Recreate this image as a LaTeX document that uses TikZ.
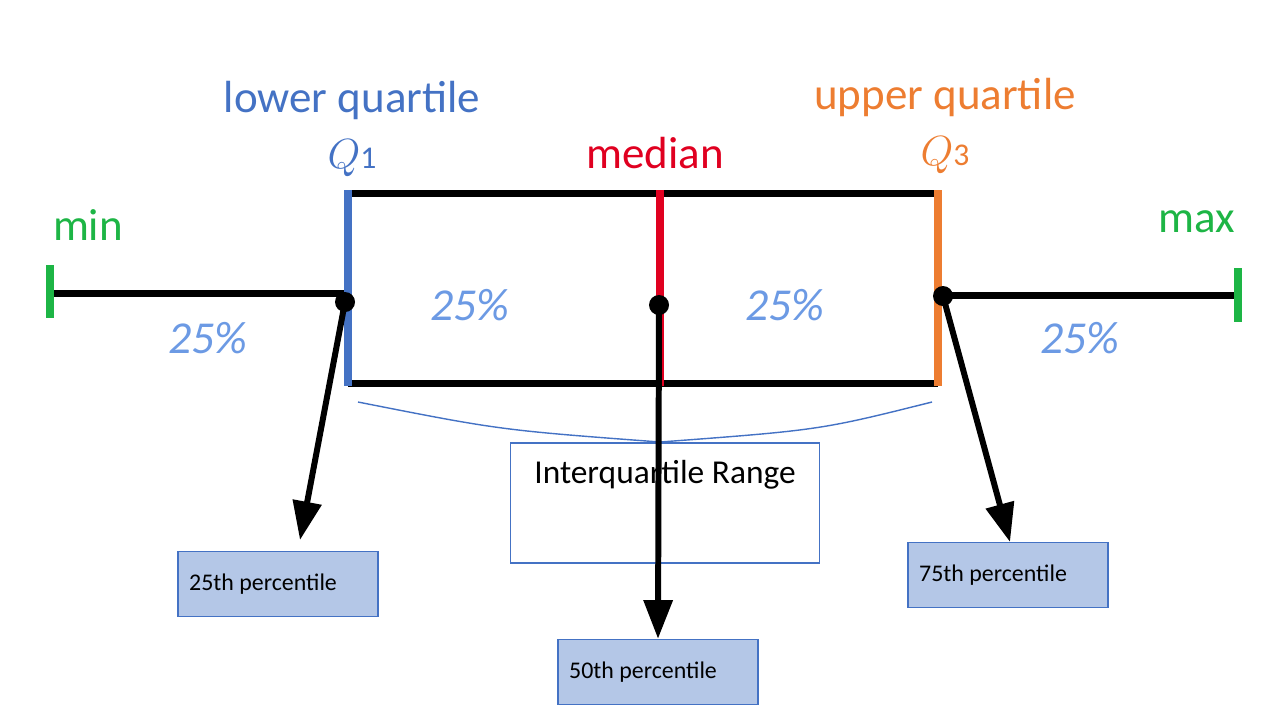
\documentclass[tikz,border=0pt]{standalone}
\usepackage{fontspec}
\setmainfont{Carlito}
\usetikzlibrary{positioning,arrows.meta}
\definecolor{qblue}{HTML}{4472C4}
\definecolor{qorange}{HTML}{ED7D31}
\definecolor{qgreen}{HTML}{1DB545}
\definecolor{qred}{HTML}{E00020}
\definecolor{pblue}{HTML}{6C9AE4}
\definecolor{lblue}{HTML}{B4C7E7}

\begin{document}
\begin{tikzpicture}[%
		x=0.01cm,
		y=-0.01cm,
		>={Triangle[length=11pt,width=8pt]},
		qlabel/.style={%
			font=\fontsize{12.8}{14}\selectfont,
			inner sep=0pt
		},
		pct/.style={%
			font=\fontsize{13}{15}\selectfont\itshape,
			text=pblue,
			inner sep=0pt
		},
		pbox/.style={%
			draw=qblue,
			fill=lblue,
			minimum width=2cm,
			minimum height=0.65cm,
			font=\fontsize{6.8}{8}\selectfont,
			inner sep=0pt
		},
		dot/.style={%
			circle,
			fill=black,
			inner sep=0pt,
			minimum size=0.2cm
		}
		]
		\useasboundingbox (0,0) rectangle (1280,720);
		
		% whiskers and box
		\draw[line width=2pt] (50,293) -- (345,293);
		\draw[line width=2pt] (942,295) -- (1238,295);
		\draw[line width=2pt] (348,193) -- (938,193);
		\draw[line width=2pt] (348,383) -- (938,383);
		\draw[qgreen,line width=2.5pt] (50,265) -- (50,318);
		\draw[qgreen,line width=2.5pt] (1238,268) -- (1238,322);
		\draw[qblue,line width=2.5pt] (348,190) -- (348,386);
		\draw[qorange,line width=2.5pt] (938,190) -- (938,386);
		\draw[qred,line width=2.5pt] (660,190) -- (660,386);
		
		% brace
		\draw[qblue,thin] (358,402) .. controls (500,430) .. (660,442)
		.. controls (820,430) .. (932,402);
		
		% boxes
		\node[draw=qblue,fill=white,minimum width=3.09cm,minimum height=1.2cm,
		inner sep=0pt] (iqr) at (665,503) {};
		\node[font=\fontsize{9.5}{11}\selectfont] (iqrt) at (665,475) {Interquartile Range};
		\node[pbox] (p25) at (278,584) {\hspace*{-0.3cm}25th percentile};
		\node[pbox] (p50) at (658,672) {\hspace*{-0.3cm}50th percentile};
		\node[pbox] (p75) at (1008,575) {\hspace*{-0.3cm}75th percentile};
		
		% points
		\node[dot] (q1) at (345,302) {};
		\node[dot] (md) at (659,305) {};
		\node[dot] (q3) at (943,296) {};
		
		\draw[->,line width=1.7pt] (q1.center) -- (300,540);
		\draw[->,line width=1.7pt] (md.center) -- (p50.north);
		\draw[->,line width=1.7pt] (q3.center) -- (1010,542);
		
		% labels
		\node[qlabel,text=qblue] (lq) at (352,100) {lower quartile};
		\node[qlabel,text=qblue] (q1t) at (352,158) {$Q$\fontsize{9}{10}\selectfont1};
		\node[qlabel,text=qred] (mdt) at (655,153) {median};
		\node[qlabel,text=qorange] (uq) at (945,97) {upper quartile};
		\node[qlabel,text=qorange] (q3t) at (945,155) {$Q$\fontsize{9}{10}\selectfont3};
		\node[qlabel,text=qgreen] (mn) at (88,225) {min};
		\node[qlabel,text=qgreen] (mx) at (1197,222) {max};
		\node[pct] (a) at (208,338) {25\%};
		\node[pct] (b) at (470,305) {25\%};
		\node[pct] (c) at (785,305) {25\%};
		\node[pct] (d) at (1080,338) {25\%};
		\end{tikzpicture}
\end{document}
